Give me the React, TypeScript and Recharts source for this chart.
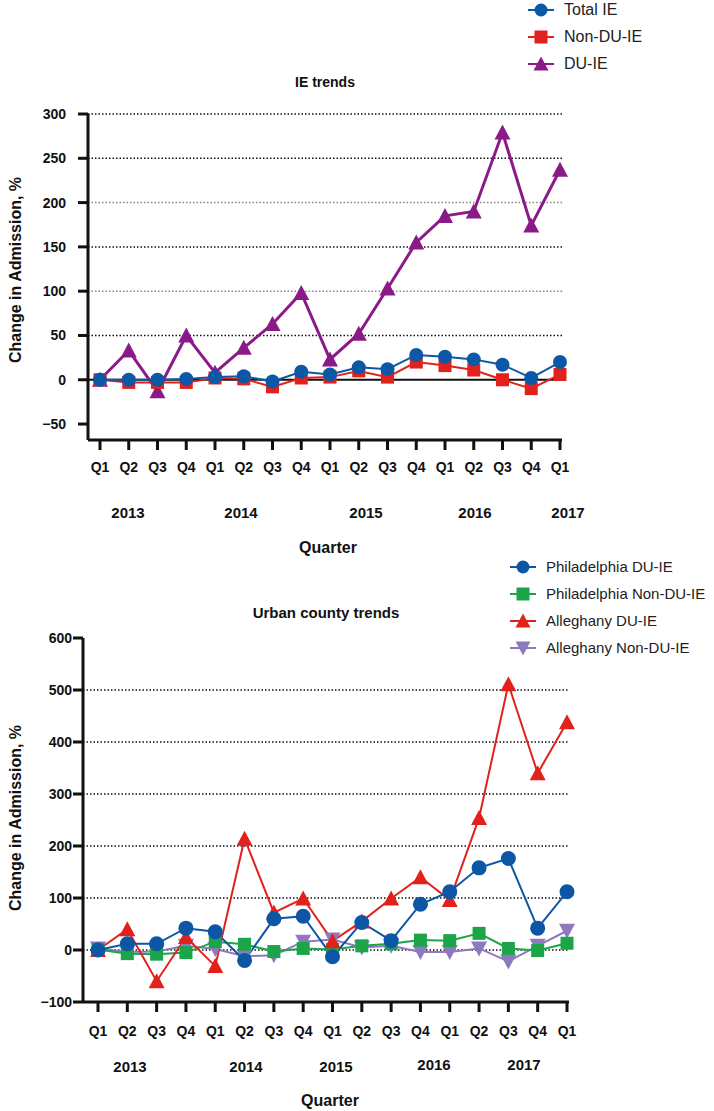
import { LineChart, Line, XAxis, YAxis, ReferenceLine } from "recharts";

// quarter ticks, 2013 Q1 .. 2017 Q1
const quarters = ["Q1", "Q2", "Q3", "Q4", "Q1", "Q2", "Q3", "Q4", "Q1", "Q2", "Q3", "Q4", "Q1", "Q2", "Q3", "Q4", "Q1"];
const years = ["2013", "2014", "2015", "2016", "2017"];

// IE trends
const totalIE = [0, 0, 0, 1, 3, 4, -2, 9, 6, 14, 12, 28, 26, 23, 17, 2, 20];
const nonDuIE = [0, -3, -3, -3, 2, 1, -8, 2, 3, 10, 3, 20, 16, 11, 0, -10, 6];
const duIE = [0, 33, -13, 50, 8, 36, 63, 98, 23, 52, 103, 155, 185, 190, 279, 174, 237];

// Urban county trends
const phillyDU = [0, 12, 12, 42, 35, -20, 60, 65, -13, 53, 18, 88, 112, 158, 176, 42, 112];
const phillyNonDU = [1, -7, -8, -5, 16, 11, -3, 3, 1, 8, 12, 19, 18, 32, 3, -1, 13];
const alleghanyDU = [0, 40, -60, 25, -31, 214, 72, 99, 17, 55, 99, 140, 96, 254, 511, 340, 438];
const alleghanyNonDU = [3, -4, -3, 8, 2, -12, -10, 16, 20, 5, 8, -4, -4, 3, -22, 8, 37];

const topTicks = [-50, 0, 50, 100, 150, 200, 250, 300];
const topGrid = [50, 100, 150, 200, 250, 300];
const bottomTicks = [-100, 0, 100, 200, 300, 400, 500, 600];
const bottomGrid = [0, 100, 200, 300, 400, 500];

const FONT = "'Liberation Sans', Arial, sans-serif";

const topData = quarters.map((q, i) => ({
  id: "t" + i,
  total: totalIE[i],
  nonDu: nonDuIE[i],
  du: duIE[i],
}));

const bottomData = quarters.map((q, i) => ({
  id: "b" + i,
  phDu: phillyDU[i],
  phNon: phillyNonDU[i],
  alDu: alleghanyDU[i],
  alNon: alleghanyNonDU[i],
}));

type Shape = "circle" | "square" | "triangle" | "triangleDown";

function Marker({ shape, cx, cy, color, size }: { shape: Shape; cx: number; cy: number; color: string; size: number }) {
  const h = size / 2;
  if (shape === "circle") return <circle cx={cx} cy={cy} r={h} fill={color} />;
  if (shape === "square") return <rect x={cx - h} y={cy - h} width={size} height={size} fill={color} />;
  if (shape === "triangle")
    return <polygon points={`${cx},${cy - h - 1} ${cx - h - 1},${cy + h} ${cx + h + 1},${cy + h}`} fill={color} />;
  return <polygon points={`${cx},${cy + h + 1} ${cx - h - 1},${cy - h} ${cx + h + 1},${cy - h}`} fill={color} />;
}

const dot = (shape: Shape, color: string, size: number) => (props: any) => {
  const { cx, cy, index } = props;
  return <Marker key={index} shape={shape} cx={cx} cy={cy} color={color} size={size} />;
};

const tickStyle = { fontFamily: FONT, fontWeight: 700, fontSize: 14, fill: "#111" };
const minus = (v: number) => String(v).replace("-", "\u2212");

function LegendBox({ items, top, left, size }: { items: { name: string; color: string; shape: Shape }[]; top: number; left: number; size: number }) {
  return (
    <div style={{ position: "absolute", top, left, fontFamily: FONT, fontSize: size, color: "#222", whiteSpace: "nowrap" }}>
      {items.map((it) => (
        <div key={it.name} style={{ display: "flex", alignItems: "center", height: 27 }}>
          <svg width={28} height={18} style={{ marginRight: 8, flexShrink: 0 }}>
            <line x1={0} y1={9} x2={26} y2={9} stroke={it.color} strokeWidth={2} />
            <Marker shape={it.shape} cx={13} cy={9} color={it.color} size={13} />
          </svg>
          <span>{it.name}</span>
        </div>
      ))}
    </div>
  );
}

function Text({ children, x, y, size = 15, bold = true }: any) {
  return (
    <div
      style={{
        position: "absolute",
        left: x,
        top: y,
        transform: "translate(-50%, -50%)",
        fontFamily: FONT,
        fontWeight: bold ? 700 : 400,
        fontSize: size,
        color: "#111",
        whiteSpace: "nowrap",
      }}
    >
      {children}
    </div>
  );
}

function YLabel({ x, y }: { x: number; y: number }) {
  return (
    <div
      style={{
        position: "absolute",
        left: x,
        top: y,
        transform: "translate(-50%, -50%) rotate(-90deg)",
        fontFamily: FONT,
        fontWeight: 700,
        fontSize: 16,
        color: "#111",
        whiteSpace: "nowrap",
      }}
    >
      Change in Admission, %
    </div>
  );
}

export default function App() {
  return (
    <div style={{ position: "absolute", left: 0, top: 0, width: 714, height: 1111, background: "#fff", overflow: "hidden" }}>
      {/* IE trends */}
      <div style={{ position: "absolute", left: 0, top: 0 }}>
        <LineChart width={714} height={560} data={topData} margin={{ top: 114, right: 152, bottom: 80, left: 28 }}>
          {topGrid.map((v) => (
            <ReferenceLine
              key={v}
              y={v}
              stroke={v === 100 || v === 200 ? "#888" : "#111"}
              strokeWidth={1.5}
              strokeDasharray="1.5 2"
            />
          ))}
          <ReferenceLine y={0} stroke="#111" strokeWidth={1.8} />
          <XAxis
            dataKey="id"
            tickFormatter={(v, i) => quarters[i]}
            interval={0}
            padding={{ left: 12, right: 2 }}
            height={40}
            tickSize={10}
            tickMargin={12}
            axisLine={{ stroke: "#111", strokeWidth: 3 }}
            tickLine={{ stroke: "#111", strokeWidth: 3 }}
            tick={tickStyle}
          />
          <YAxis
            domain={[-68, 300]}
            ticks={topTicks}
            tickFormatter={minus}
            width={60}
            tickSize={10}
            tickMargin={12}
            axisLine={{ stroke: "#111", strokeWidth: 3 }}
            tickLine={{ stroke: "#111", strokeWidth: 3 }}
            tick={tickStyle}
          />
          <Line dataKey="du" stroke="#8B1A89" strokeWidth={3} dot={dot("triangle", "#8B1A89", 14)} isAnimationActive={false} />
          <Line dataKey="nonDu" stroke="#E2211C" strokeWidth={2} dot={dot("square", "#E2211C", 13)} isAnimationActive={false} />
          <Line dataKey="total" stroke="#0B58A6" strokeWidth={2} dot={dot("circle", "#0B58A6", 14)} isAnimationActive={false} />
        </LineChart>
      </div>
      <LegendBox
        top={-4}
        left={528}
        size={16}
        items={[
          { name: "Total IE", color: "#0B58A6", shape: "circle" },
          { name: "Non-DU-IE", color: "#E2211C", shape: "square" },
          { name: "DU-IE", color: "#8B1A89", shape: "triangle" },
        ]}
      />
      <Text x={325} y={82} size={14}>IE trends</Text>
      <YLabel x={16} y={270} />
      <Text x={128} y={512} size={15}>{years[0]}</Text>
      <Text x={241} y={512} size={15}>{years[1]}</Text>
      <Text x={366} y={512} size={15}>{years[2]}</Text>
      <Text x={475} y={512} size={15}>{years[3]}</Text>
      <Text x={568} y={512} size={15}>{years[4]}</Text>
      <Text x={328} y={548} size={16}>Quarter</Text>

      {/* Urban county trends */}
      <div style={{ position: "absolute", left: 0, top: 555 }}>
        <LineChart width={714} height={556} data={bottomData} margin={{ top: 83, right: 145, bottom: 69, left: 23 }}>
          {bottomGrid.map((v) => (
            <ReferenceLine key={v} y={v} stroke="#111" strokeWidth={1.5} strokeDasharray="1.5 2" />
          ))}
          <XAxis
            dataKey="id"
            tickFormatter={(v, i) => quarters[i]}
            interval={0}
            padding={{ left: 15, right: 2 }}
            height={40}
            tickSize={10}
            tickMargin={14}
            axisLine={{ stroke: "#111", strokeWidth: 3 }}
            tickLine={{ stroke: "#111", strokeWidth: 3 }}
            tick={tickStyle}
          />
          <YAxis
            domain={[-100, 600]}
            ticks={bottomTicks}
            tickFormatter={minus}
            width={60}
            tickSize={10}
            tickMargin={1}
            axisLine={{ stroke: "#111", strokeWidth: 3 }}
            tickLine={{ stroke: "#111", strokeWidth: 3 }}
            tick={tickStyle}
          />
          <Line dataKey="alNon" stroke="#8E78BE" strokeWidth={2} dot={dot("triangleDown", "#8E78BE", 14)} isAnimationActive={false} />
          <Line dataKey="phNon" stroke="#1BA548" strokeWidth={2} dot={dot("square", "#1BA548", 13)} isAnimationActive={false} />
          <Line dataKey="alDu" stroke="#E2211C" strokeWidth={2} dot={dot("triangle", "#E2211C", 14)} isAnimationActive={false} />
          <Line dataKey="phDu" stroke="#0D56A5" strokeWidth={2} dot={dot("circle", "#0D56A5", 15)} isAnimationActive={false} />
        </LineChart>
      </div>
      <LegendBox
        top={553}
        left={510}
        size={15}
        items={[
          { name: "Philadelphia DU-IE", color: "#0D56A5", shape: "circle" },
          { name: "Philadelphia Non-DU-IE", color: "#1BA548", shape: "square" },
          { name: "Alleghany DU-IE", color: "#E2211C", shape: "triangle" },
          { name: "Alleghany Non-DU-IE", color: "#8E78BE", shape: "triangleDown" },
        ]}
      />
      <Text x={326} y={612} size={15}>Urban county trends</Text>
      <YLabel x={16} y={818} />
      <Text x={130} y={1066} size={15}>{years[0]}</Text>
      <Text x={246} y={1066} size={15}>{years[1]}</Text>
      <Text x={336} y={1066} size={15}>{years[2]}</Text>
      <Text x={434} y={1064} size={15}>{years[3]}</Text>
      <Text x={524} y={1064} size={15}>{years[4]}</Text>
      <Text x={330} y={1101} size={16}>Quarter</Text>
    </div>
  );
}
